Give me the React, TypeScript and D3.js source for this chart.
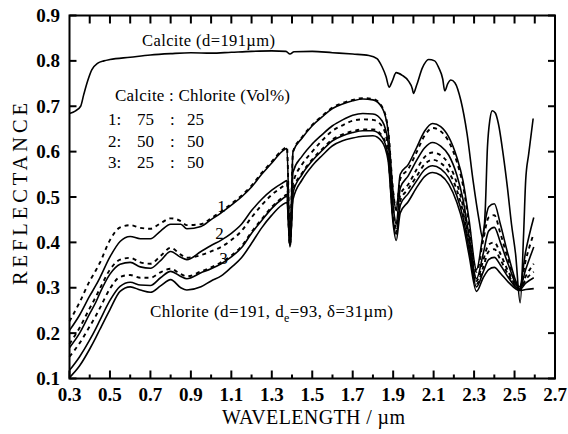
import React from 'react';
import * as d3 from 'd3';

const W = 568;
const H = 434;
const X0 = 69.5;
const X1 = 555;
const Y0 = 378.5;
const Y1 = 15.5;

const xMajorTicks = [0.3, 0.5, 0.7, 0.9, 1.1, 1.3, 1.5, 1.7, 1.9, 2.1, 2.3, 2.5, 2.7];
const xMinorTicks = [0.4, 0.6, 0.8, 1.0, 1.2, 1.4, 1.6, 1.8, 2.0, 2.2, 2.4, 2.6];
const yTicks = [0.1, 0.2, 0.3, 0.4, 0.5, 0.6, 0.7, 0.8, 0.9];

const calciteWl = [0.30, 0.33, 0.355, 0.37, 0.39, 0.41, 0.44, 0.47, 0.50, 0.60, 0.70, 0.80, 0.90, 1.00, 1.10, 1.20, 1.30, 1.37, 1.39, 1.41, 1.50, 1.60, 1.70, 1.78, 1.82, 1.845, 1.865, 1.88, 1.895, 1.915, 1.945, 1.975, 1.995, 2.0, 2.015, 2.045, 2.075, 2.105, 2.125, 2.145, 2.155, 2.17, 2.185, 2.205, 2.235, 2.265, 2.295, 2.325, 2.342, 2.355, 2.366, 2.378, 2.39, 2.405, 2.42, 2.445, 2.465, 2.485, 2.505, 2.528, 2.545, 2.555, 2.57, 2.592];
const calciteR = [0.684, 0.690, 0.700, 0.725, 0.756, 0.780, 0.795, 0.800, 0.803, 0.808, 0.813, 0.816, 0.818, 0.817, 0.819, 0.821, 0.822, 0.821, 0.815, 0.820, 0.821, 0.818, 0.815, 0.812, 0.805, 0.787, 0.765, 0.742, 0.755, 0.774, 0.768, 0.756, 0.738, 0.728, 0.745, 0.785, 0.803, 0.800, 0.785, 0.760, 0.734, 0.750, 0.758, 0.752, 0.712, 0.640, 0.536, 0.448, 0.410, 0.470, 0.609, 0.670, 0.690, 0.685, 0.662, 0.590, 0.520, 0.440, 0.375, 0.267, 0.420, 0.536, 0.595, 0.673];

const mixWl = [0.30, 0.35, 0.40, 0.43, 0.45, 0.50, 0.55, 0.60, 0.65, 0.70, 0.75, 0.80, 0.85, 0.88, 0.95, 1.00, 1.05, 1.10, 1.15, 1.20, 1.25, 1.30, 1.35, 1.375, 1.39, 1.405, 1.45, 1.50, 1.55, 1.60, 1.65, 1.70, 1.75, 1.80, 1.845, 1.875, 1.90, 1.915, 1.935, 1.975, 2.015, 2.055, 2.095, 2.135, 2.175, 2.215, 2.245, 2.275, 2.312, 2.345, 2.372, 2.40, 2.43, 2.47, 2.525, 2.555, 2.595];
const mix1 = [0.206, 0.240, 0.282, 0.305, 0.322, 0.368, 0.402, 0.413, 0.408, 0.408, 0.425, 0.440, 0.440, 0.430, 0.435, 0.450, 0.465, 0.482, 0.500, 0.522, 0.550, 0.575, 0.600, 0.607, 0.400, 0.600, 0.630, 0.657, 0.677, 0.695, 0.705, 0.712, 0.716, 0.714, 0.697, 0.646, 0.510, 0.470, 0.550, 0.572, 0.608, 0.645, 0.662, 0.655, 0.632, 0.587, 0.536, 0.450, 0.340, 0.420, 0.478, 0.485, 0.440, 0.370, 0.302, 0.380, 0.455];
const mix1Model = [0.226, 0.268, 0.315, 0.338, 0.355, 0.405, 0.433, 0.438, 0.432, 0.430, 0.442, 0.453, 0.447, 0.438, 0.440, 0.453, 0.468, 0.485, 0.503, 0.525, 0.553, 0.578, 0.603, 0.610, 0.400, 0.600, 0.632, 0.659, 0.679, 0.697, 0.707, 0.714, 0.718, 0.716, 0.699, 0.648, 0.512, 0.472, 0.540, 0.562, 0.598, 0.635, 0.652, 0.645, 0.622, 0.577, 0.526, 0.440, 0.335, 0.405, 0.455, 0.460, 0.420, 0.360, 0.300, 0.360, 0.420];
const mix2 = [0.168, 0.200, 0.243, 0.268, 0.288, 0.330, 0.352, 0.356, 0.346, 0.343, 0.360, 0.380, 0.367, 0.362, 0.380, 0.393, 0.405, 0.420, 0.440, 0.470, 0.495, 0.515, 0.530, 0.536, 0.395, 0.555, 0.590, 0.617, 0.638, 0.657, 0.670, 0.680, 0.684, 0.683, 0.668, 0.620, 0.480, 0.440, 0.520, 0.547, 0.580, 0.608, 0.620, 0.612, 0.592, 0.548, 0.495, 0.415, 0.320, 0.375, 0.425, 0.433, 0.400, 0.350, 0.298, 0.340, 0.390];
const mix2Model = [0.176, 0.212, 0.255, 0.280, 0.298, 0.340, 0.362, 0.366, 0.356, 0.353, 0.370, 0.388, 0.373, 0.366, 0.372, 0.380, 0.390, 0.405, 0.425, 0.455, 0.482, 0.505, 0.522, 0.530, 0.395, 0.530, 0.572, 0.600, 0.625, 0.646, 0.658, 0.668, 0.671, 0.670, 0.656, 0.610, 0.475, 0.432, 0.505, 0.528, 0.560, 0.588, 0.598, 0.592, 0.572, 0.530, 0.480, 0.402, 0.315, 0.360, 0.395, 0.400, 0.375, 0.335, 0.297, 0.325, 0.353];
const mix3 = [0.118, 0.148, 0.185, 0.210, 0.228, 0.272, 0.303, 0.312, 0.306, 0.305, 0.322, 0.336, 0.325, 0.320, 0.333, 0.342, 0.353, 0.368, 0.388, 0.420, 0.448, 0.475, 0.495, 0.502, 0.392, 0.510, 0.550, 0.580, 0.603, 0.624, 0.635, 0.642, 0.646, 0.646, 0.632, 0.590, 0.450, 0.418, 0.482, 0.508, 0.535, 0.560, 0.569, 0.562, 0.542, 0.502, 0.455, 0.385, 0.302, 0.335, 0.362, 0.367, 0.350, 0.322, 0.296, 0.310, 0.322];
const mix3Model = [0.148, 0.178, 0.215, 0.238, 0.255, 0.298, 0.324, 0.328, 0.322, 0.322, 0.334, 0.342, 0.330, 0.325, 0.336, 0.345, 0.356, 0.371, 0.391, 0.423, 0.451, 0.478, 0.498, 0.505, 0.392, 0.515, 0.553, 0.583, 0.606, 0.627, 0.638, 0.645, 0.649, 0.649, 0.635, 0.592, 0.452, 0.420, 0.492, 0.518, 0.545, 0.572, 0.582, 0.575, 0.555, 0.515, 0.468, 0.395, 0.308, 0.345, 0.380, 0.385, 0.362, 0.328, 0.296, 0.318, 0.335];
const chlorite = [0.102, 0.128, 0.165, 0.190, 0.208, 0.252, 0.292, 0.302, 0.295, 0.290, 0.304, 0.318, 0.300, 0.295, 0.302, 0.315, 0.326, 0.345, 0.366, 0.398, 0.432, 0.460, 0.482, 0.488, 0.390, 0.495, 0.538, 0.569, 0.592, 0.613, 0.624, 0.630, 0.634, 0.635, 0.622, 0.580, 0.440, 0.404, 0.465, 0.490, 0.520, 0.545, 0.554, 0.548, 0.528, 0.488, 0.442, 0.372, 0.292, 0.322, 0.340, 0.345, 0.332, 0.312, 0.294, 0.296, 0.298];

const legendRows = [
  ['1:', '75', ':', '25'],
  ['2:', '50', ':', '50'],
  ['3:', '25', ':', '50'],
];
const curveLabels = [
  { text: '1', wl: 1.03, r: 0.468 },
  { text: '2', wl: 1.02, r: 0.408 },
  { text: '3', wl: 1.04, r: 0.352 },
];

const x = d3.scaleLinear().domain([0.3, 2.7]).range([X0, X1]);
const y = d3.scaleLinear().domain([0.1, 0.9]).range([Y0, Y1]);
const lineGen = d3
  .line<[number, number]>()
  .x((d) => x(d[0]))
  .y((d) => y(d[1]))
  .curve(d3.curveMonotoneX);

const zip = (wl: number[], r: number[]) => wl.map((w, i) => [w, r[i]] as [number, number]);

const series = [
  { key: 'calcite', pts: zip(calciteWl, calciteR), dashed: false },
  { key: 'mix1', pts: zip(mixWl, mix1), dashed: false },
  { key: 'mix1m', pts: zip(mixWl, mix1Model), dashed: true },
  { key: 'mix2', pts: zip(mixWl, mix2), dashed: false },
  { key: 'mix2m', pts: zip(mixWl, mix2Model), dashed: true },
  { key: 'mix3', pts: zip(mixWl, mix3), dashed: false },
  { key: 'mix3m', pts: zip(mixWl, mix3Model), dashed: true },
  { key: 'chlorite', pts: zip(mixWl, chlorite), dashed: false },
];

const fmt = d3.format('.1f');
const FONT = "'Liberation Serif', 'DejaVu Serif', serif";

export default function App() {
  const topTicks = d3.range(4, 27).map((v) => v / 10);
  return (
    <svg
      width={W}
      height={H}
      viewBox={`0 0 ${W} ${H}`}
      style={{ position: 'absolute', left: 0, top: 0, background: '#fff' }}
      fontFamily={FONT}
    >
      <rect x={0} y={0} width={W} height={H} fill="#fff" />
      {series.map((s) => (
        <path
          key={s.key}
          d={lineGen(s.pts) || ''}
          fill="none"
          stroke="#000"
          strokeWidth={s.dashed ? 1.9 : 1.6}
          strokeDasharray={s.dashed ? '4,4' : undefined}
          strokeLinejoin="round"
        />
      ))}
      {/* frame */}
      <rect x={X0} y={Y1} width={X1 - X0} height={Y0 - Y1} fill="none" stroke="#000" strokeWidth={2} />
      {/* bottom ticks */}
      {xMajorTicks.map((t) => (
        <line key={'bm' + t} x1={x(t)} x2={x(t)} y1={Y0} y2={Y0 - 8} stroke="#000" strokeWidth={2} />
      ))}
      {xMinorTicks.map((t) => (
        <line key={'bn' + t} x1={x(t)} x2={x(t)} y1={Y0} y2={Y0 - 4} stroke="#000" strokeWidth={2} />
      ))}
      {topTicks.map((t) => (
        <line key={'tt' + t} x1={x(t)} x2={x(t)} y1={Y1} y2={Y1 + 8} stroke="#000" strokeWidth={2} />
      ))}
      {yTicks.map((t) => (
        <g key={'y' + t}>
          <line x1={X0} x2={X0 + 7} y1={y(t)} y2={y(t)} stroke="#000" strokeWidth={2} />
          <line x1={X1} x2={X1 - 7} y1={y(t)} y2={y(t)} stroke="#000" strokeWidth={2} />
          <text x={60} y={y(t) + 6.5} textAnchor="end" fontSize={19} fontWeight="bold">
            {fmt(t)}
          </text>
        </g>
      ))}
      {xMajorTicks.map((t) => (
        <text key={'xl' + t} x={x(t)} y={401} textAnchor="middle" fontSize={19} fontWeight="bold">
          {fmt(t)}
        </text>
      ))}
      {/* axis titles */}
      <text
        transform="translate(27,194) rotate(-90)"
        textAnchor="middle"
        fontSize={20.5}
        textLength={182}
        lengthAdjust="spacing"
      >
        REFLECTANCE
      </text>
      <text x={222} y={424} fontSize={20} textLength={183} lengthAdjust="spacing">
        WAVELENGTH / µm
      </text>
      {/* annotations */}
      <text x={142} y={46} fontSize={16.5} textLength={133} lengthAdjust="spacing">
        Calcite (d=191µm)
      </text>
      <text x={115} y={101} fontSize={17} textLength={175} lengthAdjust="spacing">
        Calcite : Chlorite (Vol%)
      </text>
      {legendRows.map((row, i) => (
        <g key={'lg' + i} fontSize={17}>
          <text x={108} y={125 + i * 21.5}>{row[0]}</text>
          <text x={137} y={125 + i * 21.5}>{row[1]}</text>
          <text x={170} y={125 + i * 21.5}>{row[2]}</text>
          <text x={187} y={125 + i * 21.5}>{row[3]}</text>
        </g>
      ))}
      {curveLabels.map((c) => (
        <text key={'cl' + c.text} x={x(c.wl)} y={y(c.r)} fontSize={17}>
          {c.text}
        </text>
      ))}
      <text x={150} y={317} fontSize={17} textLength={243} lengthAdjust="spacing">
        Chlorite (d=191, d<tspan dy={5} fontSize={12}>e</tspan><tspan dy={-5}>=93, δ=31µm)</tspan>
      </text>
    </svg>
  );
}
